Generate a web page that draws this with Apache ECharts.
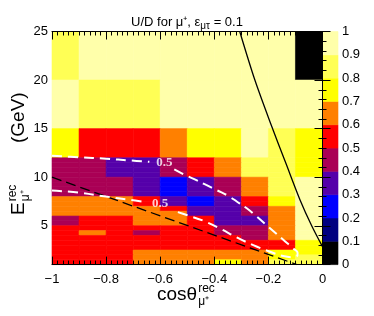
<!DOCTYPE html>
<html><head><meta charset="utf-8">
<script src="https://cdn.jsdelivr.net/npm/echarts@6/dist/echarts.min.js"></script>
<style>html,body{margin:0;padding:0;background:#fff}#c{width:374px;height:316px}</style>
</head><body><div id="c"></div>
<script>
// ---- data ----
const xEdges = [-1, -0.9, -0.8, -0.7, -0.6, -0.5, -0.4, -0.3, -0.2, -0.1, 0];
// row edges from top to bottom (GeV)
const yEdges = [25, 20, 15, 12, 11.5, 11, 10.5, 10, 9.5, 9, 8.5, 8, 7.5, 7, 6.5, 6, 5.5, 5, 4.5, 4, 3.5, 3, 2.5, 2, 1.5, 1];
// U/D ratio, one row per y bin (top to bottom), one column per cos bin (-1 -> 0)
const ratio = [
  [0.85, 0.95, 0.95, 0.95, 0.95, 0.95, 0.95, 0.95, 0.95, 0.05],
  [0.95, 0.85, 0.85, 0.85, 0.95, 0.95, 0.95, 0.95, 0.95, 0.95],
  [0.75, 0.55, 0.55, 0.55, 0.65, 0.75, 0.75, 0.95, 0.85, 0.75],
  [0.45, 0.45, 0.35, 0.35, 0.45, 0.55, 0.65, 0.85, 0.85, 0.75],
  [0.45, 0.45, 0.35, 0.35, 0.45, 0.55, 0.65, 0.85, 0.85, 0.75],
  [0.45, 0.45, 0.35, 0.35, 0.45, 0.55, 0.65, 0.85, 0.85, 0.75],
  [0.45, 0.45, 0.35, 0.35, 0.45, 0.55, 0.65, 0.85, 0.85, 0.75],
  [0.45, 0.45, 0.45, 0.35, 0.25, 0.35, 0.45, 0.65, 0.85, 0.95],
  [0.45, 0.45, 0.45, 0.35, 0.25, 0.35, 0.45, 0.65, 0.85, 0.95],
  [0.45, 0.45, 0.45, 0.35, 0.25, 0.35, 0.45, 0.65, 0.85, 0.95],
  [0.45, 0.45, 0.45, 0.35, 0.25, 0.35, 0.45, 0.65, 0.85, 0.95],
  [0.65, 0.65, 0.65, 0.55, 0.35, 0.25, 0.35, 0.55, 0.75, 0.95],
  [0.65, 0.65, 0.65, 0.55, 0.35, 0.25, 0.35, 0.55, 0.75, 0.95],
  [0.65, 0.65, 0.65, 0.65, 0.55, 0.35, 0.35, 0.45, 0.65, 0.95],
  [0.65, 0.65, 0.65, 0.65, 0.65, 0.35, 0.35, 0.45, 0.65, 0.95],
  [0.45, 0.55, 0.55, 0.65, 0.65, 0.55, 0.35, 0.35, 0.65, 0.95],
  [0.45, 0.55, 0.55, 0.65, 0.65, 0.55, 0.35, 0.35, 0.65, 0.95],
  [0.55, 0.55, 0.55, 0.55, 0.55, 0.55, 0.45, 0.45, 0.65, 0.95],
  [0.55, 0.65, 0.55, 0.45, 0.55, 0.55, 0.45, 0.45, 0.65, 0.95],
  [0.55, 0.55, 0.55, 0.55, 0.55, 0.55, 0.55, 0.45, 0.65, 0.95],
  [0.55, 0.55, 0.55, 0.55, 0.55, 0.55, 0.55, 0.55, 0.55, 0.75],
  [0.55, 0.55, 0.55, 0.55, 0.55, 0.55, 0.55, 0.55, 0.55, 0.75],
  [0.55, 0.55, 0.55, 0.65, 0.65, 0.65, 0.65, 0.65, 0.75, 0.75],
  [0.55, 0.55, 0.55, 0.65, 0.65, 0.65, 0.65, 0.65, 0.75, 0.85],
  [0.55, 0.55, 0.55, 0.65, 0.65, 0.65, 0.75, 0.65, 0.85, 0.85]
];
// colour scale
const levels = [0, 0.1, 0.2, 0.3, 0.4, 0.5, 0.6, 0.7, 0.8, 0.9, 1];
const levelColors = ['#000000', '#000080', '#0000ff', '#5500aa', '#aa0055', '#ff0000', '#ff8000', '#ffff00', '#ffff55', '#ffffaa'];
// 0.5 contours (cos, E)
const contourUpperA = [[-1, 12.2], [-0.9, 12.05], [-0.8, 11.9], [-0.71, 11.72], [-0.64, 11.58]];
const contourUpperB = [[-0.548, 10.8], [-0.51, 10.25], [-0.47, 9.75], [-0.43, 9.2], [-0.39, 8.65], [-0.35, 8.1], [-0.317, 7.5], [-0.28, 6.8], [-0.243, 5.95], [-0.194, 4.75], [-0.145, 3.55], [-0.11, 2.7], [-0.092, 2.2], [-0.095, 1.85], [-0.11, 1.75], [-0.145, 1.88], [-0.194, 2.32], [-0.256, 3.0], [-0.317, 3.8], [-0.379, 4.72], [-0.441, 5.52], [-0.502, 6.1], [-0.545, 6.5]];
const contourLowerA = [[-1, 8.62], [-0.9, 8.41], [-0.8, 8.0], [-0.71, 7.66], [-0.655, 7.45]];
const contourLabels = [[-0.585, 11.45, 0.5], [-0.6, 7.3, 0.5]];
// kinematic boundaries
const solidCurve = [[-0.306, 25], [-0.25, 20], [-0.19, 15.4], [-0.135, 11.4], [-0.083, 7.66], [-0.04, 5.0], [0, 2.85]];
const dashedLine = [[-1, 10], [-0.095, 1]];

// ---- build cells ----
const cells = [];
for (let i = 0; i < ratio.length; i++) {
  for (let j = 0; j < ratio[i].length; j++) {
    cells.push([xEdges[j], xEdges[j + 1], yEdges[i + 1], yEdges[i], ratio[i][j]]);
  }
}
const barCells = [];
for (let k = 0; k < levels.length - 1; k++) {
  barCells.push([0, 1, levels[k], levels[k + 1], (levels[k] + levels[k + 1]) / 2]);
}
function renderCell(params, api) {
  const p0 = api.coord([api.value(0), api.value(3)]);
  const p1 = api.coord([api.value(1), api.value(2)]);
  const c = api.visual('color');
  return { type: 'rect', shape: { x: p0[0], y: p0[1], width: p1[0] - p0[0], height: p1[1] - p0[1] },
           style: { fill: c, stroke: c, lineWidth: 0.6 } };
}
const FF = 'Liberation Sans, Arial, Helvetica, sans-serif';
const fmt = v => { const r = Math.round(v * 10) / 10; return (r < 0 ? '\u2212' : '') + Math.abs(r); };

const ctx = document.createElement('canvas').getContext('2d');
function tw(t, fs) { ctx.font = fs + 'px ' + FF; return ctx.measureText(t).width; }
// text helper: x = left, b = baseline
function T(text, x, b, fs) {
  return { type: 'text', x: x, y: b - 0.8 * fs, z: 100,
           style: { text: text, font: fs + 'px ' + FF, fill: '#000', align: 'left', verticalAlign: 'top' } };
}

// title pieces
const tMain = 'U/D for \u03bc\u207a, \u03b5', tSub = '\u03bc\u03c4', tEnd = ' = 0.1';
const wM = tw(tMain, 13), wS = tw(tSub, 10), wE = tw(tEnd, 13);
const tX0 = 187 - (wM + wS + wE) / 2;
// x title
const wCos = tw('cos\u03b8', 19);
const xT0 = 157;
// y title
const wE1 = tw('E', 19);

const chart = echarts.init(document.getElementById('c'), null, { renderer: 'canvas' });
const baseTick = { show: true, inside: true, length: 8, lineStyle: { color: '#000', width: 1 } };
chart.setOption({
  animation: false,
  backgroundColor: '#fff',
  grid: [
    { left: 52, right: 51.5, top: 31.5, bottom: 51.4 },
    { left: 323, right: 36, top: 31.5, bottom: 51.4 }
  ],
  xAxis: [
    { gridIndex: 0, type: 'value', min: -1, max: 0, interval: 0.2, position: 'bottom', z: 10,
      axisLine: { show: true, lineStyle: { color: '#000', width: 1 } },
      axisTick: baseTick, minorTick: { show: true, splitNumber: 10, length: 4, lineStyle: { color: '#000', width: 1 } },
      axisLabel: { fontSize: 13, fontFamily: FF, color: '#000', margin: 8, formatter: fmt },
      splitLine: { show: false } },
    { gridIndex: 0, type: 'value', min: -1, max: 0, interval: 0.2, position: 'top', z: 10,
      axisLine: { show: true, lineStyle: { color: '#000', width: 1 } },
      axisTick: baseTick, minorTick: { show: true, splitNumber: 10, length: 4, lineStyle: { color: '#000', width: 1 } },
      axisLabel: { show: false }, splitLine: { show: false } },
    { gridIndex: 1, type: 'value', min: 0, max: 1, show: false }
  ],
  yAxis: [
    { gridIndex: 0, type: 'value', min: 1, max: 25, splitNumber: 5, position: 'left', z: 10,
      axisLine: { show: true, lineStyle: { color: '#000', width: 1 } },
      axisTick: baseTick,
      axisLabel: { fontSize: 13, fontFamily: FF, color: '#000', margin: 4, formatter: v => (v % 5 === 0 ? String(v) : '') },
      splitLine: { show: false } },
    { gridIndex: 0, type: 'value', min: 1, max: 25, interval: 1, position: 'left', z: 10,
      axisLine: { show: false }, axisTick: { show: true, inside: true, length: 4, lineStyle: { color: '#000' } },
      axisLabel: { show: false }, splitLine: { show: false } },
    { gridIndex: 0, type: 'value', min: 1, max: 25, splitNumber: 5, position: 'right', z: 10,
      axisLine: { show: true, lineStyle: { color: '#000', width: 1 } },
      axisTick: baseTick, axisLabel: { show: false }, splitLine: { show: false } },
    { gridIndex: 0, type: 'value', min: 1, max: 25, interval: 1, position: 'right', z: 10,
      axisLine: { show: false }, axisTick: { show: true, inside: true, length: 4, lineStyle: { color: '#000' } },
      axisLabel: { show: false }, splitLine: { show: false } },
    { gridIndex: 1, type: 'value', min: 0, max: 1, interval: 0.1, position: 'right', z: 10,
      axisLine: { show: false }, axisTick: { show: false },
      axisLabel: { fontSize: 13, fontFamily: FF, color: '#000', margin: 4, formatter: v => String(Math.round(v * 10) / 10) },
      splitLine: { show: false } }
  ],
  visualMap: {
    type: 'piecewise', show: false, dimension: 4, seriesIndex: [0, 1],
    pieces: levelColors.map((c, k) => ({ gte: levels[k], lt: levels[k + 1], color: c }))
  },
  series: [
    { type: 'custom', xAxisIndex: 0, yAxisIndex: 0, renderItem: renderCell, data: cells,
      encode: { x: [0, 1], y: [2, 3] }, z: 2, silent: true },
    { type: 'custom', xAxisIndex: 2, yAxisIndex: 4, renderItem: renderCell, data: barCells,
      encode: { x: [0, 1], y: [2, 3] }, z: 2, silent: true },
    { type: 'line', xAxisIndex: 0, yAxisIndex: 0, data: solidCurve, smooth: 0.3, symbol: 'none', clip: true, z: 5,
      lineStyle: { color: '#000', width: 1.3 } },
    { type: 'line', xAxisIndex: 0, yAxisIndex: 0, data: dashedLine, symbol: 'none', clip: true, z: 5,
      lineStyle: { color: '#000', width: 1.3, type: [10, 5] } },
    { type: 'line', xAxisIndex: 0, yAxisIndex: 0, data: contourUpperA, smooth: 0.4, symbol: 'none', z: 6,
      lineStyle: { color: '#fff', width: 2, type: [10, 6] } },
    { type: 'line', xAxisIndex: 0, yAxisIndex: 0, data: contourUpperB, smooth: 0.4, symbol: 'none', z: 6,
      lineStyle: { color: '#fff', width: 2, type: [10, 6] } },
    { type: 'line', xAxisIndex: 0, yAxisIndex: 0, data: contourLowerA, smooth: 0.4, symbol: 'none', z: 6,
      lineStyle: { color: '#fff', width: 2, type: [10, 6] } },
    { type: 'scatter', xAxisIndex: 0, yAxisIndex: 0, data: contourLabels, symbolSize: 1, z: 7,
      itemStyle: { color: 'rgba(0,0,0,0)' },
      label: { show: true, position: 'inside', formatter: p => String(p.value[2]), color: '#fff',
               fontFamily: 'Liberation Serif, Times New Roman, serif', fontWeight: 'bold', fontSize: 13 } }
  ],
  graphic: [
    T(tMain, tX0, 26, 13),
    T(tSub, tX0 + wM, 29, 10),
    T(tEnd, tX0 + wM + wS, 26, 13),
    T('cos\u03b8', xT0, 300, 19),
    T('rec', xT0 + wCos + 1, 292, 12),
    T('\u03bc\u207a', xT0 + wCos + 1, 305, 12),
    { type: 'group', x: 24, y: 215, rotation: Math.PI / 2, z: 100, children: [
      T('E', 0, 0, 19),
      T('rec', wE1 + 1, -8, 12),
      T('\u03bc\u207a', wE1 + 1, 5, 12),
      T('(GeV)', 72, 0, 19)
    ] }
  ]
});
</script></body></html>
